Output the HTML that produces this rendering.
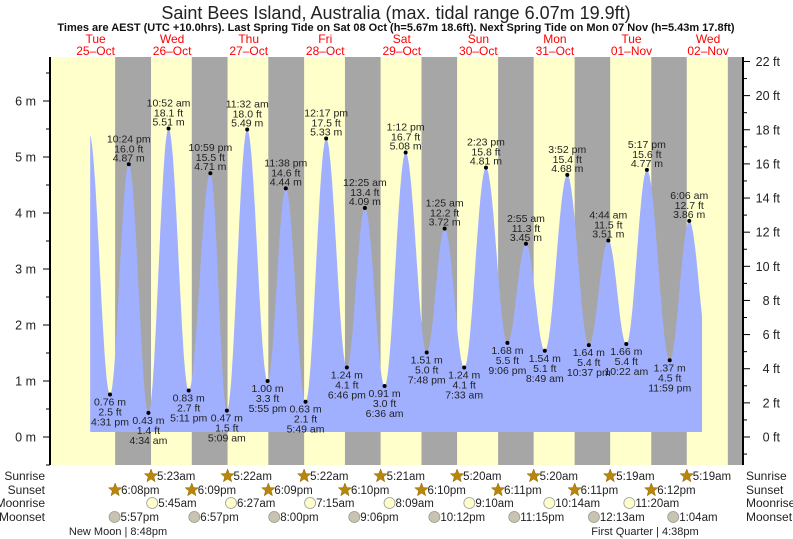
<!DOCTYPE html>
<html><head><meta charset="utf-8">
<style>
html,body{margin:0;padding:0;background:#fff;}
svg{display:block;font-family:"Liberation Sans",sans-serif;}
</style></head>
<body>
<svg id="chart" width="793" height="539" viewBox="0 0 793 539">
<text x="396" y="19" text-anchor="middle" font-size="18" fill="#222">Saint Bees Island, Australia (max. tidal range 6.07m 19.9ft)</text>
<text x="396" y="31" text-anchor="middle" font-size="11" font-weight="bold" fill="#111">Times are AEST (UTC +10.0hrs). Last Spring Tide on Sat 08 Oct (h=5.67m 18.6ft). Next Spring Tide on Mon 07 Nov (h=5.43m 17.8ft)</text>
<g id="bg"></g>
<g id="tide"></g>
<g id="axes"></g>
<g id="labels"></g>
<g id="astro"></g>
</svg>
<script>
// ---- data ----
const dayNames = ["Tue","Wed","Thu","Fri","Sat","Sun","Mon","Tue","Wed"];
const dayDates = ["25\u2013Oct","26\u2013Oct","27\u2013Oct","28\u2013Oct","29\u2013Oct","30\u2013Oct","31\u2013Oct","01\u2013Nov","02\u2013Nov"];
// tide extremes: hours from 25-Oct 00:00
const tideHours = [10.0, 16.52, 22.4, 28.57, 34.87, 41.18, 47.98, 53.15, 59.53, 65.92, 71.63, 77.82, 84.28, 90.77, 96.42, 102.6, 109.2, 115.8, 121.42, 127.55, 134.38, 141.1, 146.92, 152.82, 159.87, 166.62, 172.73, 178.37, 184.83, 191.98, 198.1, 204.3];
const tideHeights = [5.42, 0.76, 4.87, 0.43, 5.51, 0.83, 4.71, 0.47, 5.49, 1.00, 4.44, 0.63, 5.33, 1.24, 4.09, 0.91, 5.08, 1.51, 3.72, 1.24, 4.81, 1.68, 3.45, 1.54, 4.68, 1.64, 3.51, 1.66, 4.77, 1.37, 3.86, 1.5];
const tideTimes = ["", "4:31 pm","10:24 pm","4:34 am","10:52 am","5:11 pm","10:59 pm","5:09 am","11:32 am","5:55 pm","11:38 pm","5:49 am","12:17 pm","6:46 pm","12:25 am","6:36 am","1:12 pm","7:48 pm","1:25 am","7:33 am","2:23 pm","9:06 pm","2:55 am","8:49 am","3:52 pm","10:37 pm","4:44 am","10:22 am","5:17 pm","11:59 pm","6:06 am",""];
const sunriseHours = [29.38, 53.37, 77.37, 101.35, 125.33, 149.33, 173.32, 197.32];
const sunriseLabels = ["5:23am","5:22am","5:22am","5:21am","5:20am","5:20am","5:19am","5:19am"];
const sunsetHours = [18.13, 42.15, 66.15, 90.17, 114.17, 138.18, 162.18, 186.2, 210.2];
const sunsetLabels = ["6:08pm","6:09pm","6:09pm","6:10pm","6:10pm","6:11pm","6:11pm","6:12pm",""];
const moonriseHours = [29.75, 54.45, 79.25, 104.15, 129.17, 154.23, 179.33];
const moonriseLabels = ["5:45am","6:27am","7:15am","8:09am","9:10am","10:14am","11:20am"];
const moonsetHours = [17.95, 42.95, 68.0, 93.1, 118.2, 143.25, 168.22, 193.07];
const moonsetLabels = ["5:57pm","6:57pm","8:00pm","9:06pm","10:12pm","11:15pm","12:13am","1:04am"];
const mTicks = [0,1,2,3,4,5,6];
const ftTicks = [0,2,4,6,8,10,12,14,16,18,20,22];

// ---- scales ----
const PL=50, PR=743, PT=57, PB=465;
const X = h => 57.3 + 3.19*h;
const Y = m => 437 - 56*m;
const NS="http://www.w3.org/2000/svg";
function mk(tag, attrs, parent, txt){
  const e=document.createElementNS(NS,tag);
  for(const k in attrs) e.setAttribute(k,attrs[k]);
  if(txt!==undefined) e.textContent=txt;
  parent.appendChild(e); return e;
}
const bg=document.getElementById('bg'), tide=document.getElementById('tide'),
 axes=document.getElementById('axes'), labels=document.getElementById('labels'), astro=document.getElementById('astro'), svg=document.getElementById('chart');

// background
let r=mk('rect',{x:PL,y:PT,width:PR-PL,height:PB-PT,fill:'#ffffcc'},bg);


for(let i=0;i<sunsetHours.length;i++){
  const x0=X(sunsetHours[i]);
  const x1=i<sunriseHours.length?X(sunriseHours[i]):PR;
  const n=mk('rect',{x:x0,y:PT,width:Math.min(x1,PR)-x0,height:PB-PT,fill:'#a6a6a6'},bg);
  
  
}
// day labels
for(let i=0;i<dayNames.length;i++){
  const cx=X(12+24*i);
  const t1=mk('text',{x:cx,y:43,'text-anchor':'middle','font-size':12,fill:'#ff0000'},svg,dayNames[i]);
  
  
  const t2=mk('text',{x:cx,y:55,'text-anchor':'middle','font-size':12,fill:'#ff0000'},svg,dayDates[i]);
  
  
}
// tide curve
function hAt(t){
  for(let i=0;i<tideHours.length-1;i++){
    if(t>=tideHours[i]&&t<=tideHours[i+1]){
      const f=(t-tideHours[i])/(tideHours[i+1]-tideHours[i]);
      return tideHeights[i]+(tideHeights[i+1]-tideHeights[i])*(1-Math.cos(Math.PI*f))/2;
    }
  }
  return tideHeights[tideHeights.length-1];
}
const t0=10.3, t1=(702-57.3)/3.19, base=432;
let d=`M${X(t0)},${base}`;
for(let t=t0;t<=t1;t+=0.2) d+=` L${X(t).toFixed(1)},${Y(hAt(t)).toFixed(1)}`;
d+=` L${X(t1).toFixed(1)},${Y(hAt(t1)).toFixed(1)} L${X(t1).toFixed(1)},${base} Z`;
const area=mk('path',{d:d,fill:'#a0b0ff'},tide);



// extreme labels
for(let i=1;i<tideHours.length-1;i++){
  const x=X(tideHours[i]), y=Y(tideHeights[i]);
  const m=tideHeights[i], ft=(m*3.28084).toFixed(1);
  const dot=mk('circle',{cx:x,cy:y,r:2,fill:'#000'},labels);
  
  
  const high=tideHeights[i]>tideHeights[i-1];
  const lines=high?[tideTimes[i],ft+' ft',m.toFixed(2)+' m']:[m.toFixed(2)+' m',ft+' ft',tideTimes[i]];
  const offs=high?[-22,-12,-3]:[11,21,31];
  for(let k=0;k<3;k++){
    const tx=mk('text',{x:x,y:y+offs[k],'text-anchor':'middle','font-size':10.5,fill:'#222'},labels,lines[k]);
    
    
  }
}
// axes
const la=mk('line',{x1:PL,y1:PT,x2:PL,y2:PB,stroke:'#000','stroke-width':2},axes);


const ra=mk('line',{x1:PR,y1:PT,x2:PR,y2:PB,stroke:'#000','stroke-width':2},axes);


for(let m=-0.5;m<=6.8;m+=0.5){
  const y=Y(m); if(y<PT||y>PB) continue;
  const major=Math.abs(m-Math.round(m))<0.01;
  mk('line',{x1:major?PL-7:PL-4,y1:y,x2:PL,y2:y,stroke:'#000','stroke-width':1},axes);
}
mTicks.forEach(m=>{
  const t=mk('text',{x:36,y:Y(m)+4.5,'text-anchor':'end','font-size':12.5,fill:'#222'},axes,m+' m');
  
  
});
for(let f=-1;f<=22;f+=1){
  const y=Y(f*0.3048); if(y<PT||y>PB) continue;
  mk('line',{x1:PR,y1:y,x2:PR+(f%2===0?7:4),y2:y,stroke:'#000','stroke-width':1},axes);
}
ftTicks.forEach(f=>{
  const t=mk('text',{x:780,y:Y(f*0.3048)+4.5,'text-anchor':'end','font-size':12.5,fill:'#222'},axes,f+' ft');
  
  
});
// astro rows
const rows=[["Sunrise",480],["Sunset",494],["Moonrise",507],["Moonset",521]];
rows.forEach(rw=>{
  const a=mk('text',{x:45,y:rw[1],'text-anchor':'end','font-size':12,fill:'#222'},astro,rw[0]);
  
  
  const b=mk('text',{x:746,y:rw[1],'font-size':12,fill:'#222'},astro,rw[0]);
  
  
});
function star(cx,cy){
  let p='';
  for(let k=0;k<10;k++){const rr=k%2?3:7;const a=-Math.PI/2+k*Math.PI/5;p+=(cx+rr*Math.cos(a)).toFixed(1)+','+(cy+rr*Math.sin(a)).toFixed(1)+' ';}
  return p;
}
function row(hours,labs,y,kind){
  hours.forEach((h,i)=>{
    if(!labs[i]) return;
    const x=X(h);
    let ic;
    if(kind==='sun'){ic=mk('polygon',{points:star(x,y-4),fill:'#b8860b',stroke:'#8a6400','stroke-width':0.5},astro);}
    else ic=mk('circle',{cx:x,cy:y-4,r:5.5,fill:kind==='mr'?'#ffffcc':'#c8c4b0',stroke:'#999','stroke-width':0.8},astro);
    
    
    const t=mk('text',{x:x+6,y:y,'font-size':11.5,fill:'#222'},astro,labs[i]);
    
    
  });
}
row(sunriseHours,sunriseLabels,480,'sun');
row(sunsetHours,sunsetLabels,494,'sun');
row(moonriseHours,moonriseLabels,507,'mr');
row(moonsetHours,moonsetLabels,521,'ms');
const nm=mk('text',{x:118,y:535,'text-anchor':'middle','font-size':11,fill:'#222'},astro,"New Moon | 8:48pm");


const fq=mk('text',{x:645,y:535,'text-anchor':'middle','font-size':11,fill:'#222'},astro,"First Quarter | 4:38pm");


</script>
</body></html>
